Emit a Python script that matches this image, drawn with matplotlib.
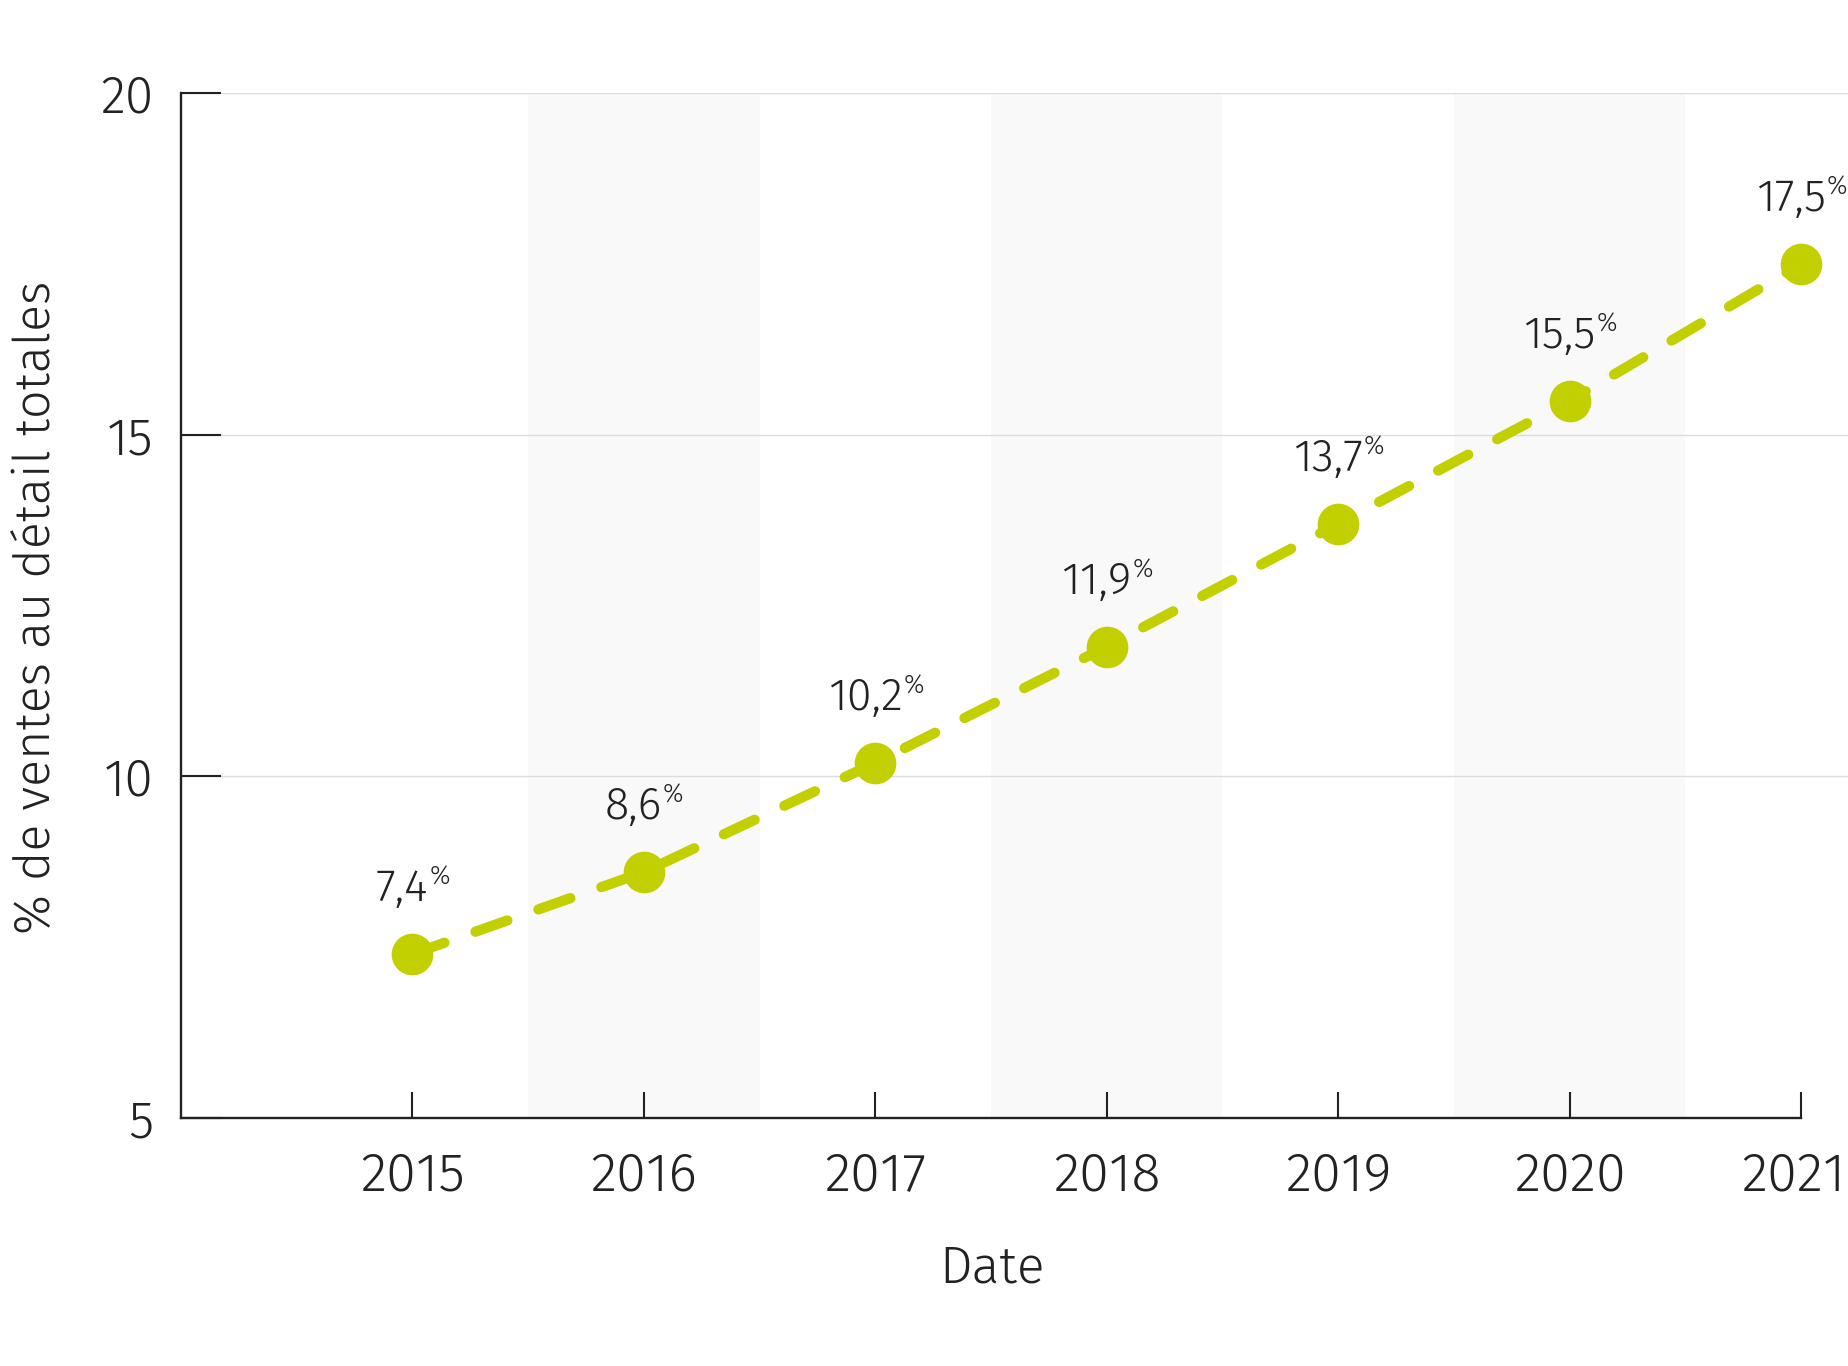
import matplotlib
matplotlib.use("Agg")
import matplotlib.pyplot as plt
from matplotlib import font_manager
from matplotlib.transforms import ScaledTranslation

years = [2015, 2016, 2017, 2018, 2019, 2020, 2021]
values = [7.4, 8.6, 10.2, 11.9, 13.7, 15.5, 17.5]
value_labels = ["7,4", "8,6", "10,2", "11,9", "13,7", "15,5", "17,5"]
yticks = [5, 10, 15, 20]
shaded_years = [2016, 2018, 2020]
ylabel = "% de ventes au détail totales"
xlabel = "Date"

# ---- font selection (Source Sans Light preferred) ----
files = [f.fname for f in font_manager.fontManager.ttflist]
def find(*keys):
    for k in keys:
        for fn in files:
            if fn.split("/")[-1].lower() == k.lower():
                return fn
    return None
fname = find("SourceSans3-Light.ttf", "SourceSansPro-Light.ttf", "SourceSans3-Light.otf",
             "SourceSansPro-Light.otf")
scale = 1.0
if fname is None:
    fname = find("FiraSans-Light.ttf")
    scale = 0.93
if fname is None:
    fname = find("Lato-Light.ttf")
    scale = 0.95

def fp(size):
    if fname:
        return font_manager.FontProperties(fname=fname, size=size * scale)
    return font_manager.FontProperties(family="DejaVu Sans", size=size * scale)

W, H, DPI = 1849, 1366, 100
fig = plt.figure(figsize=(W / DPI, H / DPI), dpi=DPI)
ax = fig.add_axes([181 / W, 1 - 1118 / H, 1 - 181 / W, (1118 - 93.3) / H])

GREEN = "#c2cf00"
DARK = "#222222"

ax.set_xlim(2014, 2021.207)
ax.set_ylim(5, 20)

for yr in shaded_years:
    ax.axvspan(yr - 0.5, yr + 0.5, color="#f9f9f9", zorder=0, lw=0)

for yv in yticks[1:]:
    ax.axhline(yv, color="#dcdcdc", lw=1.0, zorder=1)

ax.plot(years, values, color=GREEN, lw=7.4, ls=(0, (3.3, 3.2)),
        dash_capstyle="round", marker="o", markersize=30,
        markeredgewidth=0, zorder=3, clip_on=False)

for s in ["top", "right"]:
    ax.spines[s].set_visible(False)
for s in ["left", "bottom"]:
    ax.spines[s].set_color(DARK)
    ax.spines[s].set_linewidth(1.7)
ax.spines["bottom"].set_bounds(2014, 2021)

ax.set_xticks(years)
ax.set_xticklabels([str(y) for y in years], fontproperties=fp(42))
ax.set_yticks(yticks)
ax.set_yticklabels([str(y) for y in yticks], fontproperties=fp(40))
ax.tick_params(axis="x", direction="in", length=19, width=1.5, color=DARK,
               labelcolor=DARK, pad=23)
ax.tick_params(axis="y", direction="in", length=29, width=1.5, color=DARK,
               labelcolor=DARK, pad=20)

# keep the last x tick label inside the figure edge
last = ax.get_xticklabels()[-1]
last.set_transform(last.get_transform() + ScaledTranslation(-8 / DPI, 0, fig.dpi_scale_trans))

fig.text(36 / W, 1 - 607 / H, ylabel, rotation=90, ha="center", va="center",
         fontproperties=fp(39), color=DARK)
fig.text(992 / W, 1 - 1268 / H, xlabel, ha="center", va="center",
         fontproperties=fp(40), color=DARK)

# data labels with superscript %
fig.canvas.draw()
renderer = fig.canvas.get_renderer()
for x, y, lab in zip(years, values, value_labels):
    t1 = ax.annotate(lab, (x, y), xytext=(0, 38), textcoords="offset points",
                     ha="left", va="baseline", fontproperties=fp(35), color="#222222",
                     annotation_clip=False, zorder=4)
    t2 = ax.annotate("%", (x, y), xytext=(0, 50), textcoords="offset points",
                     ha="left", va="baseline", fontproperties=fp(20), color="#222222",
                     annotation_clip=False, zorder=4)
    w1 = t1.get_window_extent(renderer).width * 72 / DPI
    w2 = t2.get_window_extent(renderer).width * 72 / DPI
    tot = w1 + w2
    t1.set_position((-tot / 2, 38))
    t2.set_position((-tot / 2 + w1 + 0.5, 50))

fig.savefig("out.png", dpi=DPI)
